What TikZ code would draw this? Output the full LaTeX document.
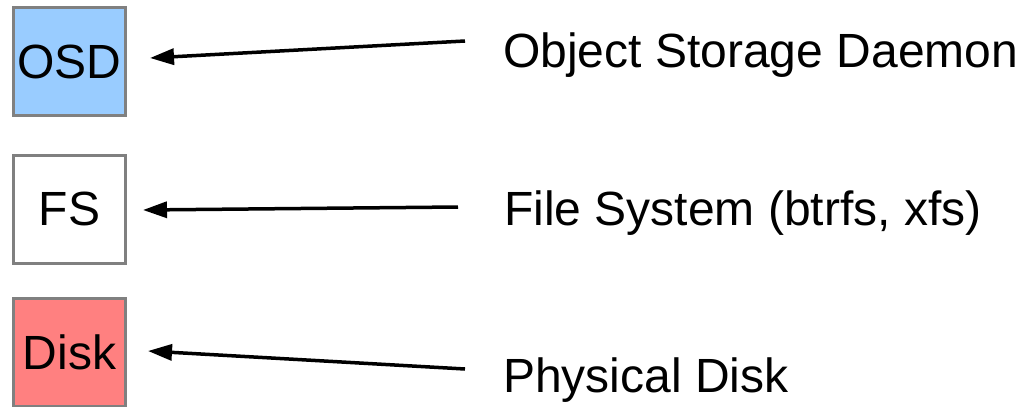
\documentclass[tikz,border=0pt]{standalone}
\usepackage{fontspec}
\setmainfont{Liberation Sans}
\usetikzlibrary{arrows.meta}
\definecolor{osdblue}{HTML}{99CCFF}
\definecolor{diskred}{HTML}{FF8080}
\definecolor{boxgray}{HTML}{808080}
\begin{document}
\begin{tikzpicture}[x=1pt,y=-1pt,
  layer/.style={draw=boxgray, line width=3pt, minimum width=112pt, minimum height=108pt, inner sep=0pt, font=\fontsize{48}{50}\selectfont},
  label/.style={anchor=base west, inner sep=0pt, font=\fontsize{48}{50}\selectfont},
  pointer/.style={line width=3.5pt, -{Triangle[length=24pt,width=16pt]}}]
\useasboundingbox (0,0) rectangle (1021,407);
\node[layer, fill=osdblue] (osd) at (69.5,61.5) {OSD};
\node[layer, fill=white] (fs) at (69.5,209) {FS};
\node[layer, fill=diskred] (disk) at (69.5,352) {Disk};
\node[label] (losd) at (503,67.5) {Object Storage Daemon};
\node[label] (lfs) at (504,225) {File System (btrfs, xfs)};
\node[label] (ldisk) at (503,392) {Physical Disk};
\coordinate (tosd) at (465,41);
\coordinate (hosd) at (150,58);
\coordinate (tfs) at (458,207);
\coordinate (hfs) at (143,210);
\coordinate (tdisk) at (465,369);
\coordinate (hdisk) at (148,351);
\draw[pointer] (tosd) -- (hosd);
\draw[pointer] (tfs) -- (hfs);
\draw[pointer] (tdisk) -- (hdisk);
\end{tikzpicture}
\end{document}
